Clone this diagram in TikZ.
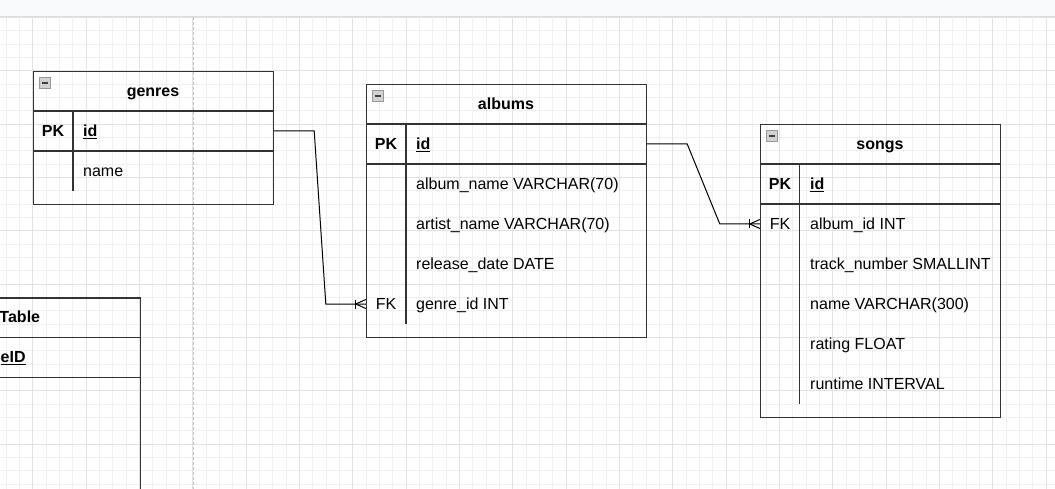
\documentclass[tikz,border=0pt]{standalone}
\usepackage{fontspec}
\setmainfont{Liberation Sans}
\usepackage{tikz}

\definecolor{minorgray}{HTML}{F0F0F0}
\definecolor{majorgray}{HTML}{E2E2E2}
\definecolor{pagegray}{HTML}{C4C4C4}
\definecolor{barfill}{HTML}{F8F9FA}
\definecolor{barline}{HTML}{DADCE0}
\definecolor{tblgray}{HTML}{333333}

% text size of the diagram
\newcommand\erfont{\fontsize{16}{19}\selectfont}
% underlined primary key name
\newcommand\pkname[1]{\setbox0\hbox{#1}\rlap{\rule[-2.4pt]{\wd0}{1.1pt}}\box0}
% one-or-many end at a table edge
\newcommand\crowsfoot[1]{%
	\draw[link] ([shift={(0,-4.5)}]#1) -- ([xshift=-10pt]#1) -- ([shift={(0,4.5)}]#1);
	\draw[link] ([shift={(-10,-4.5)}]#1) -- ([shift={(-10,4.5)}]#1);}

\tikzset{
	minorgrid/.style={draw=minorgray, line width=0.8pt},
	majorgrid/.style={draw=majorgray, line width=0.8pt},
	tbl/.style={draw=tblgray, line width=1.2pt, inner sep=0pt, anchor=north west},
	tblline/.style={draw=tblgray, line width=1.2pt},
	title/.style={font=\erfont\bfseries, inner sep=0pt, text height=12pt, text depth=1.5pt},
	key/.style={font=\erfont, inner sep=0pt, minimum width=40pt, text height=12pt, text depth=1.5pt},
	pk/.style={key, font=\erfont\bfseries},
	field/.style={font=\erfont, anchor=west, inner sep=0pt, text height=12pt, text depth=1.5pt},
	pkfield/.style={field, font=\erfont\bfseries},
	collapse/.style={draw=gray!80, fill=gray!35, minimum size=11pt, inner sep=0pt, anchor=north west,
		path picture={\draw[line width=1.8pt, black!75]
			([xshift=-3pt]path picture bounding box.center) -- ([xshift=3pt]path picture bounding box.center);}},
	link/.style={draw=black, line width=1pt}
}

\begin{document}
\begin{tikzpicture}[x=1pt, y=-1pt]
	\useasboundingbox (0,0) rectangle (1055,489);
	\clip (0,0) rectangle (1055,489);

	% Background grid
	\foreach \i in {0,...,78}
		\draw[minorgrid] ({6+13.333*\i},17) -- ({6+13.333*\i},489);
	\foreach \j in {0,...,35}
		\draw[minorgrid] (0,{17.33+13.333*\j}) -- (1055,{17.33+13.333*\j});
	\foreach \i in {0,...,19}
		\draw[majorgrid] ({32.67+53.333*\i},17) -- ({32.67+53.333*\i},489);
	\foreach \j in {0,...,8}
		\draw[majorgrid] (0,{17.33+53.333*\j}) -- (1055,{17.33+53.333*\j});

	% Top bar and page break
	\fill[barfill] (0,0) rectangle (1055,16.5);
	\draw[barline, line width=1pt] (0,16.5) -- (1055,16.5);
	\draw[pagegray, line width=1pt, dash pattern=on 3pt off 2pt] (193,17) -- (193,489);

	% genres table
	\node[tbl, minimum width=240pt, minimum height=133pt] (genres) at (33,71) {};
	\node[collapse] (genres-btn) at (39,77.5) {};
	\node[title] (genres-title) at (153,91) {genres};
	\draw[tblline] (33,111) -- (273,111);
	\draw[tblline] (33,151) -- (273,151);
	\draw[tblline] (73,111) -- (73,191);
	\node[pk] (genres-pk) at (53,131) {PK};
	\node[pkfield] (genres-id) at (83,131) {\pkname{id}};
	\node[field] (genres-name) at (83,171) {name};

	% albums table
	\node[tbl, minimum width=280pt, minimum height=253pt] (albums) at (366,84) {};
	\node[collapse] (albums-btn) at (372,90.5) {};
	\node[title] (albums-title) at (506,104) {albums};
	\draw[tblline] (366,124) -- (646,124);
	\draw[tblline] (366,164) -- (646,164);
	\draw[tblline] (406,124) -- (406,324);
	\node[pk] (albums-pk) at (386,144) {PK};
	\node[pkfield] (albums-id) at (416,144) {\pkname{id}};
	\node[field] (albums-name) at (416,184) {album\_name VARCHAR(70)};
	\node[field] (albums-artist) at (416,224) {artist\_name VARCHAR(70)};
	\node[field] (albums-date) at (416,264) {release\_date DATE};
	\node[key] (albums-fk) at (386,304) {FK};
	\node[field] (albums-genre) at (416,304) {genre\_id INT};

	% songs table
	\node[tbl, minimum width=240pt, minimum height=293pt] (songs) at (760,124) {};
	\node[collapse] (songs-btn) at (766,130.5) {};
	\node[title] (songs-title) at (880,144) {songs};
	\draw[tblline] (760,164) -- (1000,164);
	\draw[tblline] (760,204) -- (1000,204);
	\draw[tblline] (799.5,164) -- (799.5,404);
	\node[pk] (songs-pk) at (780,184) {PK};
	\node[pkfield] (songs-id) at (810,184) {\pkname{id}};
	\node[key] (songs-fk) at (780,224) {FK};
	\node[field] (songs-album) at (810,224) {album\_id INT};
	\node[field] (songs-track) at (810,264) {track\_number SMALLINT};
	\node[field] (songs-name) at (810,304) {name VARCHAR(300)};
	\node[field] (songs-rating) at (810,344) {rating FLOAT};
	\node[field] (songs-runtime) at (810,384) {runtime INTERVAL};

	% cut-off table on the left
	\node[tbl, minimum width=240pt, minimum height=300pt] (other) at (-100.33,297.33) {};
	\draw[tblline] (-101,337.33) -- (139.67,337.33);
	\draw[tblline] (-101,377.33) -- (139.67,377.33);
	\node[title] (other-title) at (19.8,317.33) {Table};
	\node[pkfield] (other-id) at (0.5,357.33) {\pkname{eID}};

	% genres to albums
	\draw[link] (genres-id -| genres.east) -- ++(40,0) -- ([xshift=-40pt]albums-fk.west) -- (albums-fk.west);
	\crowsfoot{albums-fk.west}

	% albums to songs
	\draw[link] (albums-id -| albums.east) -- ++(40,0) -- ([xshift=-40pt]songs-fk.west) -- (songs-fk.west);
	\crowsfoot{songs-fk.west}
\end{tikzpicture}
\end{document}
